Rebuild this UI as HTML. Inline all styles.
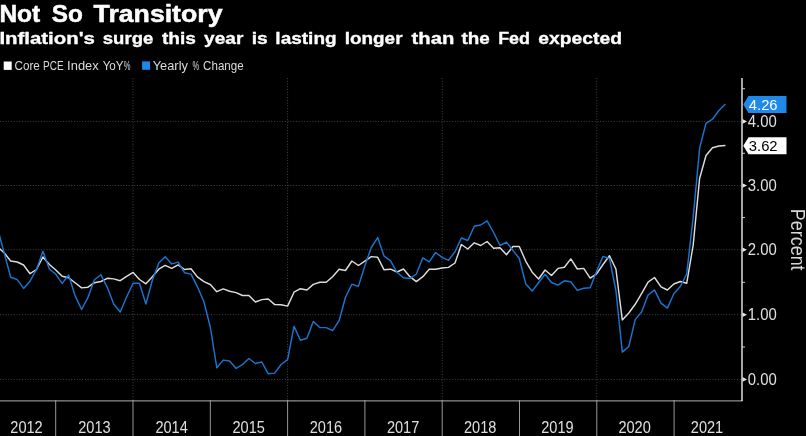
<!DOCTYPE html>
<html><head><meta charset="utf-8"><title>Not So Transitory</title>
<style>
html,body{margin:0;padding:0;background:#000;}
body{width:806px;height:436px;overflow:hidden;font-family:"Liberation Sans",sans-serif;}
svg{display:block;position:absolute;left:0;top:0;will-change:transform;opacity:0.999;}
text{font-family:"Liberation Sans",sans-serif;}
</style></head><body>
<svg width="806" height="436" viewBox="0 0 806 436">
<rect x="0" y="0" width="806" height="436" fill="#000"/>

<text x="-0.61" y="22.0" font-size="23.4" font-weight="bold" fill="#fff" stroke="#fff" stroke-width="0.5" textLength="40.89" lengthAdjust="spacingAndGlyphs">Not</text>
<text x="51.71" y="22.0" font-size="23.4" font-weight="bold" fill="#fff" stroke="#fff" stroke-width="0.5" textLength="31.06" lengthAdjust="spacingAndGlyphs">So</text>
<text x="93.60" y="22.0" font-size="23.4" font-weight="bold" fill="#fff" stroke="#fff" stroke-width="0.5" textLength="128.88" lengthAdjust="spacingAndGlyphs">Transitory</text>
<text x="-0.59" y="44.4" font-size="17.2" font-weight="bold" fill="#fff" stroke="#fff" stroke-width="0.35" textLength="95.46" lengthAdjust="spacingAndGlyphs">Inflation's</text>
<text x="102.80" y="44.4" font-size="17.2" font-weight="bold" fill="#fff" stroke="#fff" stroke-width="0.35" textLength="50.48" lengthAdjust="spacingAndGlyphs">surge</text>
<text x="161.90" y="44.4" font-size="17.2" font-weight="bold" fill="#fff" stroke="#fff" stroke-width="0.35" textLength="33.92" lengthAdjust="spacingAndGlyphs">this</text>
<text x="204.14" y="44.4" font-size="17.2" font-weight="bold" fill="#fff" stroke="#fff" stroke-width="0.35" textLength="39.30" lengthAdjust="spacingAndGlyphs">year</text>
<text x="251.69" y="44.4" font-size="17.2" font-weight="bold" fill="#fff" stroke="#fff" stroke-width="0.35" textLength="15.93" lengthAdjust="spacingAndGlyphs">is</text>
<text x="275.39" y="44.4" font-size="17.2" font-weight="bold" fill="#fff" stroke="#fff" stroke-width="0.35" textLength="61.23" lengthAdjust="spacingAndGlyphs">lasting</text>
<text x="344.70" y="44.4" font-size="17.2" font-weight="bold" fill="#fff" stroke="#fff" stroke-width="0.35" textLength="57.84" lengthAdjust="spacingAndGlyphs">longer</text>
<text x="411.60" y="44.4" font-size="17.2" font-weight="bold" fill="#fff" stroke="#fff" stroke-width="0.35" textLength="42.67" lengthAdjust="spacingAndGlyphs">than</text>
<text x="461.50" y="44.4" font-size="17.2" font-weight="bold" fill="#fff" stroke="#fff" stroke-width="0.35" textLength="28.25" lengthAdjust="spacingAndGlyphs">the</text>
<text x="498.16" y="44.4" font-size="17.2" font-weight="bold" fill="#fff" stroke="#fff" stroke-width="0.35" textLength="31.82" lengthAdjust="spacingAndGlyphs">Fed</text>
<text x="538.34" y="44.4" font-size="17.2" font-weight="bold" fill="#fff" stroke="#fff" stroke-width="0.35" textLength="83.66" lengthAdjust="spacingAndGlyphs">expected</text>
<text x="14.51" y="70.3" font-size="12.4" font-weight="normal" fill="#dcdcdc" stroke="#dcdcdc" stroke-width="0" textLength="25.35" lengthAdjust="spacingAndGlyphs">Core</text>
<text x="43.09" y="70.3" font-size="12.4" font-weight="normal" fill="#dcdcdc" stroke="#dcdcdc" stroke-width="0" textLength="20.60" lengthAdjust="spacingAndGlyphs">PCE</text>
<text x="67.13" y="70.3" font-size="12.4" font-weight="normal" fill="#dcdcdc" stroke="#dcdcdc" stroke-width="0" textLength="31.57" lengthAdjust="spacingAndGlyphs">Index</text>
<text x="102.65" y="70.3" font-size="12.4" font-weight="normal" fill="#dcdcdc" stroke="#dcdcdc" stroke-width="0" textLength="20.93" lengthAdjust="spacingAndGlyphs">YoY</text>
<text x="123.77" y="70.3" font-size="12.4" font-weight="normal" fill="#dcdcdc" stroke="#dcdcdc" stroke-width="0" textLength="6.78" lengthAdjust="spacingAndGlyphs">%</text>
<text x="152.71" y="70.3" font-size="12.4" font-weight="normal" fill="#dcdcdc" stroke="#dcdcdc" stroke-width="0" textLength="35.20" lengthAdjust="spacingAndGlyphs">Yearly</text>
<text x="192.57" y="70.3" font-size="12.4" font-weight="normal" fill="#dcdcdc" stroke="#dcdcdc" stroke-width="0" textLength="6.67" lengthAdjust="spacingAndGlyphs">%</text>
<text x="203.12" y="70.3" font-size="12.4" font-weight="normal" fill="#dcdcdc" stroke="#dcdcdc" stroke-width="0" textLength="40.48" lengthAdjust="spacingAndGlyphs">Change</text>
<rect x="3.7" y="61.5" width="8" height="8.4" fill="#fff"/>
<rect x="142.1" y="61.4" width="8" height="8.4" fill="#1f8aea"/>
<line x1="0" y1="121.4" x2="742" y2="121.4" stroke="#474747" stroke-width="1" stroke-dasharray="1,1.74"/>
<line x1="0" y1="185.5" x2="742" y2="185.5" stroke="#474747" stroke-width="1" stroke-dasharray="1,1.74"/>
<line x1="0" y1="249.7" x2="742" y2="249.7" stroke="#474747" stroke-width="1" stroke-dasharray="1,1.74"/>
<line x1="0" y1="314.7" x2="742" y2="314.7" stroke="#474747" stroke-width="1" stroke-dasharray="1,1.74"/>
<line x1="0" y1="379.4" x2="742" y2="379.4" stroke="#474747" stroke-width="1" stroke-dasharray="1,1.74"/>
<line x1="133.0" y1="78" x2="133.0" y2="400" stroke="#474747" stroke-width="1" stroke-dasharray="1,1.74"/>
<line x1="287.6" y1="78" x2="287.6" y2="400" stroke="#474747" stroke-width="1" stroke-dasharray="1,1.74"/>
<line x1="442.2" y1="78" x2="442.2" y2="400" stroke="#474747" stroke-width="1" stroke-dasharray="1,1.74"/>
<line x1="596.8" y1="78" x2="596.8" y2="400" stroke="#474747" stroke-width="1" stroke-dasharray="1,1.74"/>
<polyline fill="none" stroke="#dedede" stroke-width="1.45" stroke-linejoin="round" stroke-linecap="butt" points="-2.1,247.0 4.3,253.0 10.7,261.0 17.2,262.0 23.6,265.0 30.0,273.7 36.5,269.5 42.9,257.0 49.4,264.5 55.8,270.0 62.2,276.3 68.7,277.7 75.1,282.8 81.6,287.9 88.0,287.2 94.4,282.7 100.9,281.5 107.3,278.3 113.7,278.9 120.2,280.7 126.6,276.4 133.1,272.4 139.5,279.5 145.9,283.8 152.4,276.8 158.8,269.2 165.2,265.4 171.7,268.3 178.1,264.9 184.6,269.5 191.0,268.8 197.4,276.9 203.9,281.6 210.3,284.5 216.8,291.7 223.2,288.9 229.6,291.2 236.1,292.6 242.5,295.5 248.9,295.5 255.4,302.0 261.8,299.6 268.3,299.0 274.7,304.6 281.1,304.7 287.6,306.1 294.0,292.2 300.4,288.7 306.9,290.0 313.3,284.4 319.8,282.3 326.2,282.3 332.6,276.7 339.1,269.3 345.5,270.5 351.9,261.0 358.4,265.5 364.8,261.2 371.3,256.6 377.7,257.3 384.1,269.8 390.6,269.2 397.0,272.0 403.5,269.0 409.9,276.7 416.3,281.6 422.8,276.7 429.2,269.2 435.6,269.2 442.1,268.0 448.5,267.4 455.0,263.0 461.4,244.5 467.8,249.0 474.3,242.8 480.7,245.5 487.1,241.5 493.6,248.2 500.0,247.7 506.5,254.8 512.9,246.5 519.3,246.5 525.8,261.3 532.2,272.2 538.6,279.0 545.1,270.0 551.5,275.5 558.0,268.4 564.4,267.2 570.8,258.9 577.3,269.0 583.7,268.4 590.2,278.1 596.6,273.9 603.0,264.5 609.5,255.7 615.9,269.0 622.3,319.9 628.8,313.0 635.2,304.3 641.7,293.3 648.1,282.1 654.5,277.5 661.0,286.8 667.4,290.0 673.8,284.0 680.3,281.5 686.7,283.3 693.2,245.0 699.6,178.5 706.0,155.5 712.5,147.7 718.9,146.0 725.4,145.5"/>
<polyline fill="none" stroke="#1b76d0" stroke-width="1.45" stroke-linejoin="round" stroke-linecap="butt" points="-2.1,229.5 4.3,253.4 10.7,277.2 17.2,279.6 23.6,288.4 30.0,281.2 36.5,269.5 42.9,251.3 49.4,269.0 55.8,274.3 62.2,283.4 68.7,275.0 75.1,295.9 81.6,309.5 88.0,297.4 94.4,279.8 100.9,274.8 107.3,287.3 113.7,304.0 120.2,312.0 126.6,297.0 133.1,283.3 139.5,283.3 145.9,304.0 152.4,280.0 158.8,263.0 165.2,256.7 171.7,263.9 178.1,262.1 184.6,272.8 191.0,274.1 197.4,286.7 203.9,301.7 210.3,327.0 216.8,367.8 223.2,360.1 229.6,361.0 236.1,368.4 242.5,364.5 248.9,358.5 255.4,363.5 261.8,362.0 268.3,373.8 274.7,373.1 281.1,364.5 287.6,359.7 294.0,326.3 300.4,340.3 306.9,338.2 313.3,321.4 319.8,327.6 326.2,327.6 332.6,330.6 339.1,320.7 345.5,297.3 351.9,284.2 358.4,286.4 364.8,266.0 371.3,247.5 377.7,237.6 384.1,256.2 390.6,260.8 397.0,272.3 403.5,277.7 409.9,278.5 416.3,274.2 422.8,257.8 429.2,261.8 435.6,252.5 442.1,257.4 448.5,260.3 455.0,251.8 461.4,238.0 467.8,240.5 474.3,226.3 480.7,225.0 487.1,220.9 493.6,232.5 500.0,245.5 506.5,242.1 512.9,250.4 519.3,258.5 525.8,284.0 532.2,291.1 538.6,282.5 545.1,274.3 551.5,282.5 558.0,285.2 564.4,280.8 570.8,281.7 577.3,290.4 583.7,288.3 590.2,287.7 596.6,271.3 603.0,256.4 609.5,258.5 615.9,290.5 622.3,352.1 628.8,346.5 635.2,319.6 641.7,311.8 648.1,295.0 654.5,289.9 661.0,303.1 667.4,308.1 673.8,293.8 680.3,286.5 686.7,274.0 693.2,217.0 699.6,148.4 706.0,123.3 712.5,119.2 718.9,110.5 725.4,104.1"/>
<line x1="0" y1="400.9" x2="742.6" y2="400.9" stroke="#b4b4b4" stroke-width="1"/>
<line x1="742.0" y1="78" x2="742.0" y2="401" stroke="#ffffff" stroke-width="1.3"/>
<line x1="55.7" y1="400" x2="55.7" y2="436" stroke="#9a9a9a" stroke-width="1"/>
<line x1="133.0" y1="400" x2="133.0" y2="436" stroke="#9a9a9a" stroke-width="1"/>
<line x1="210.3" y1="400" x2="210.3" y2="436" stroke="#9a9a9a" stroke-width="1"/>
<line x1="287.6" y1="400" x2="287.6" y2="436" stroke="#9a9a9a" stroke-width="1"/>
<line x1="364.9" y1="400" x2="364.9" y2="436" stroke="#9a9a9a" stroke-width="1"/>
<line x1="442.2" y1="400" x2="442.2" y2="436" stroke="#9a9a9a" stroke-width="1"/>
<line x1="519.5" y1="400" x2="519.5" y2="436" stroke="#9a9a9a" stroke-width="1"/>
<line x1="596.8" y1="400" x2="596.8" y2="436" stroke="#9a9a9a" stroke-width="1"/>
<line x1="674.1" y1="400" x2="674.1" y2="436" stroke="#9a9a9a" stroke-width="1"/>
<line x1="742" y1="88.7" x2="745" y2="88.7" stroke="#d0d0d0" stroke-width="1"/>
<line x1="742" y1="153.3" x2="745" y2="153.3" stroke="#d0d0d0" stroke-width="1"/>
<line x1="742" y1="217.6" x2="745" y2="217.6" stroke="#d0d0d0" stroke-width="1"/>
<line x1="742" y1="282.3" x2="745" y2="282.3" stroke="#d0d0d0" stroke-width="1"/>
<line x1="742" y1="347.0" x2="745" y2="347.0" stroke="#d0d0d0" stroke-width="1"/>
<path d="M742.5 119.1 L747 121.4 L742.5 123.7 Z" fill="#e6e6e6"/>
<text x="747.8" y="126.8" font-size="16.6" fill="#e0e0e0" textLength="29" lengthAdjust="spacingAndGlyphs">4.00</text>
<path d="M742.5 183.2 L747 185.5 L742.5 187.8 Z" fill="#e6e6e6"/>
<text x="747.8" y="190.9" font-size="16.6" fill="#e0e0e0" textLength="29" lengthAdjust="spacingAndGlyphs">3.00</text>
<path d="M742.5 247.4 L747 249.7 L742.5 252.0 Z" fill="#e6e6e6"/>
<text x="747.8" y="255.1" font-size="16.6" fill="#e0e0e0" textLength="29" lengthAdjust="spacingAndGlyphs">2.00</text>
<path d="M742.5 312.4 L747 314.7 L742.5 317.0 Z" fill="#e6e6e6"/>
<text x="747.8" y="320.1" font-size="16.6" fill="#e0e0e0" textLength="29" lengthAdjust="spacingAndGlyphs">1.00</text>
<path d="M742.5 377.1 L747 379.4 L742.5 381.7 Z" fill="#e6e6e6"/>
<text x="747.8" y="384.8" font-size="16.6" fill="#e0e0e0" textLength="29" lengthAdjust="spacingAndGlyphs">0.00</text>
<text x="26.5" y="432.7" font-size="16.2" fill="#e0e0e0" text-anchor="middle" textLength="32.4" lengthAdjust="spacingAndGlyphs">2012</text>
<text x="94.4" y="432.7" font-size="16.2" fill="#e0e0e0" text-anchor="middle" textLength="32.4" lengthAdjust="spacingAndGlyphs">2013</text>
<text x="171.6" y="432.7" font-size="16.2" fill="#e0e0e0" text-anchor="middle" textLength="32.4" lengthAdjust="spacingAndGlyphs">2014</text>
<text x="248.7" y="432.7" font-size="16.2" fill="#e0e0e0" text-anchor="middle" textLength="32.4" lengthAdjust="spacingAndGlyphs">2015</text>
<text x="325.9" y="432.7" font-size="16.2" fill="#e0e0e0" text-anchor="middle" textLength="32.4" lengthAdjust="spacingAndGlyphs">2016</text>
<text x="403.1" y="432.7" font-size="16.2" fill="#e0e0e0" text-anchor="middle" textLength="32.4" lengthAdjust="spacingAndGlyphs">2017</text>
<text x="480.2" y="432.7" font-size="16.2" fill="#e0e0e0" text-anchor="middle" textLength="32.4" lengthAdjust="spacingAndGlyphs">2018</text>
<text x="557.4" y="432.7" font-size="16.2" fill="#e0e0e0" text-anchor="middle" textLength="32.4" lengthAdjust="spacingAndGlyphs">2019</text>
<text x="634.6" y="432.7" font-size="16.2" fill="#e0e0e0" text-anchor="middle" textLength="32.4" lengthAdjust="spacingAndGlyphs">2020</text>
<text x="707.0" y="432.7" font-size="16.2" fill="#e0e0e0" text-anchor="middle" textLength="32.4" lengthAdjust="spacingAndGlyphs">2021</text>
<path d="M743.3 104.5 L748.5 96.0 L786.5 96.0 L786.5 113.0 L748.5 113.0 Z" fill="#1f8aea"/>
<text x="748.8" y="109.9" font-size="15" fill="#fff" textLength="28.8" lengthAdjust="spacingAndGlyphs">4.26</text>
<path d="M743.3 145.7 L748.5 137.2 L786.5 137.2 L786.5 154.2 L748.5 154.2 Z" fill="#fff"/>
<text x="748.8" y="151.1" font-size="15" fill="#000" textLength="28.8" lengthAdjust="spacingAndGlyphs">3.62</text>
<text transform="translate(790.6,208.8) rotate(90)" font-size="19.5" fill="#d8d8d8" textLength="61.8" lengthAdjust="spacingAndGlyphs">Percent</text>
</svg>
</body></html>
